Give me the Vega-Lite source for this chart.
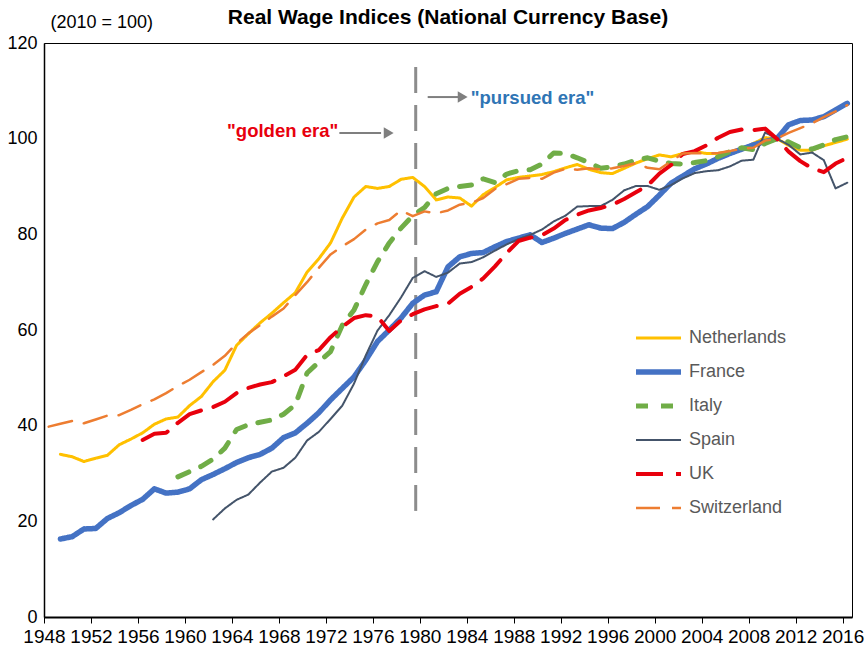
{
  "$schema": "https://vega.github.io/schema/vega-lite/v6.json",
  "width": 808,
  "height": 574,
  "autosize": {"type": "none"},
  "padding": {"left": 44, "top": 43, "right": 16, "bottom": 32},
  "config": {
    "font": "Liberation Sans",
    "view": {"stroke": "#000000", "strokeWidth": 1}
  },
  "title": {
    "text": "Real Wage Indices (National Currency Base)",
    "fontSize": 21,
    "fontWeight": "bold",
    "color": "#000000",
    "frame": "group",
    "anchor": "middle",
    "baseline": "alphabetic",
    "offset": 19,
    "dy": 51
  },
  "resolve": {"scale": {"x": "independent"}},
  "layer": [
    {
      "data": {"values": [{"x": 1979.65, "top": 115, "bottom": 22}]},
      "mark": {"type": "rule", "color": "#8C8C8C", "strokeWidth": 3, "strokeDash": [26, 12]},
      "encoding": {
        "x": {
          "field": "x", "type": "quantitative",
          "scale": {"domain": [1948, 2016.8], "nice": false, "zero": false},
          "axis": {
            "values": [1948, 1952, 1956, 1960, 1964, 1968, 1972, 1976, 1980, 1984, 1988, 1992, 1996, 2000, 2004, 2008, 2012, 2016],
            "format": "d", "title": null, "grid": false,
            "labelFontSize": 19, "labelColor": "#000000", "labelOverlap": false, "labelFlush": false,
            "labelPadding": 4, "tickSize": 6, "tickColor": "#000000", "tickWidth": 1,
            "domainColor": "#000000", "domainWidth": 2
          }
        },
        "y": {
          "field": "top", "type": "quantitative",
          "scale": {"domain": [0, 120], "nice": false},
          "axis": {
            "values": [0, 20, 40, 60, 80, 100, 120],
            "grid": false, "ticks": false,
            "labelFontSize": 18, "labelColor": "#000000", "labelPadding": 7,
            "domainColor": "#000000", "domainWidth": 1.5,
            "title": "(2010 = 100)", "titleAngle": 0, "titleX": 6, "titleY": -21,
            "titleAlign": "left", "titleBaseline": "middle",
            "titleFontSize": 18, "titleFontWeight": "normal", "titleColor": "#000000"
          }
        },
        "y2": {"field": "bottom"}
      }
    },
    {
      "data": {"name": "wages"},
      "mark": {"type": "line", "strokeCap": "round", "strokeJoin": "round"},
      "encoding": {
        "x": {"field": "year", "type": "quantitative", "scale": {"domain": [1947.6, 2016.4], "nice": false, "zero": false}, "axis": null},
        "y": {
          "field": "value", "type": "quantitative", "scale": {"domain": [0, 120], "nice": false},
          "axis": {
            "values": [0, 20, 40, 60, 80, 100, 120],
            "grid": false, "ticks": false,
            "labelFontSize": 18, "labelColor": "#000000", "labelPadding": 7,
            "domainColor": "#000000", "domainWidth": 1.5,
            "title": "(2010 = 100)", "titleAngle": 0, "titleX": 6, "titleY": -21,
            "titleAlign": "left", "titleBaseline": "middle",
            "titleFontSize": 18, "titleFontWeight": "normal", "titleColor": "#000000"
          }
        },
        "color": {
          "field": "country", "type": "nominal",
          "scale": {
            "domain": ["Netherlands", "France", "Italy", "Spain", "UK", "Switzerland"],
            "range": ["#FFC000", "#4472C4", "#70AD47", "#44546A", "#E8000D", "#ED7D31"]
          },
          "legend": {
            "title": null, "orient": "none", "legendX": 589, "legendY": 286,
            "symbolType": "stroke", "symbolSize": 2025, "clipHeight": 18, "rowPadding": 16,
            "labelFontSize": 18, "labelColor": "#595959", "labelOffset": 5, "padding": 0,
            "direction": "vertical"
          }
        },
        "strokeDash": {
          "field": "country", "type": "nominal",
          "scale": {
            "domain": ["Netherlands", "France", "Italy", "Spain", "UK", "Switzerland"],
            "range": [[1, 0], [1, 0], [12, 13], [1, 0], [27, 13], [24, 12]]
          }
        },
        "strokeWidth": {
          "field": "country", "type": "nominal",
          "scale": {
            "type": "ordinal",
            "domain": ["Netherlands", "France", "Italy", "Spain", "UK", "Switzerland"],
            "range": [3, 5.5, 5, 2, 4, 2.5]
          }
        }
      }
    },
    {
      "data": {"values": [{"x1": 1972.75, "x2": 1976.3, "y": 101.2}, {"x1": 1980.27, "x2": 1982.9, "y": 108.7}]},
      "mark": {"type": "rule", "color": "#7F7F7F", "strokeWidth": 2},
      "encoding": {
        "x": {"field": "x1", "type": "quantitative", "scale": {"domain": [1947.6, 2016.4], "nice": false, "zero": false}, "axis": null},
        "x2": {"field": "x2"},
        "y": {
          "field": "y", "type": "quantitative", "scale": {"domain": [0, 120], "nice": false},
          "axis": {
            "values": [0, 20, 40, 60, 80, 100, 120],
            "grid": false, "ticks": false,
            "labelFontSize": 18, "labelColor": "#000000", "labelPadding": 7,
            "domainColor": "#000000", "domainWidth": 1.5,
            "title": "(2010 = 100)", "titleAngle": 0, "titleX": 6, "titleY": -21,
            "titleAlign": "left", "titleBaseline": "middle",
            "titleFontSize": 18, "titleFontWeight": "normal", "titleColor": "#000000"
          }
        }
      }
    },
    {
      "data": {"values": [{"x": 1976.95, "y": 101.2}, {"x": 1983.25, "y": 108.7}]},
      "mark": {"type": "point", "shape": "triangle-right", "filled": true, "color": "#7F7F7F", "size": 130, "opacity": 1},
      "encoding": {
        "x": {"field": "x", "type": "quantitative", "scale": {"domain": [1947.6, 2016.4], "nice": false, "zero": false}, "axis": null},
        "y": {
          "field": "y", "type": "quantitative", "scale": {"domain": [0, 120], "nice": false},
          "axis": {
            "values": [0, 20, 40, 60, 80, 100, 120],
            "grid": false, "ticks": false,
            "labelFontSize": 18, "labelColor": "#000000", "labelPadding": 7,
            "domainColor": "#000000", "domainWidth": 1.5,
            "title": "(2010 = 100)", "titleAngle": 0, "titleX": 6, "titleY": -21,
            "titleAlign": "left", "titleBaseline": "middle",
            "titleFontSize": 18, "titleFontWeight": "normal", "titleColor": "#000000"
          }
        }
      }
    },
    {
      "data": {"values": [{"x": 1967.92, "y": 101.6, "label": "\"golden era\""}]},
      "mark": {"type": "text", "color": "#E8000D", "fontSize": 18.5, "fontWeight": "bold", "align": "center", "baseline": "middle"},
      "encoding": {
        "x": {"field": "x", "type": "quantitative", "scale": {"domain": [1947.6, 2016.4], "nice": false, "zero": false}, "axis": null},
        "y": {
          "field": "y", "type": "quantitative", "scale": {"domain": [0, 120], "nice": false},
          "axis": {
            "values": [0, 20, 40, 60, 80, 100, 120],
            "grid": false, "ticks": false,
            "labelFontSize": 18, "labelColor": "#000000", "labelPadding": 7,
            "domainColor": "#000000", "domainWidth": 1.5,
            "title": "(2010 = 100)", "titleAngle": 0, "titleX": 6, "titleY": -21,
            "titleAlign": "left", "titleBaseline": "middle",
            "titleFontSize": 18, "titleFontWeight": "normal", "titleColor": "#000000"
          }
        },
        "text": {"field": "label"}
      }
    },
    {
      "data": {"values": [{"x": 1983.94, "y": 108.5, "label": "\"pursued era\""}]},
      "mark": {"type": "text", "color": "#2F75B5", "fontSize": 18.5, "fontWeight": "bold", "align": "left", "baseline": "middle"},
      "encoding": {
        "x": {"field": "x", "type": "quantitative", "scale": {"domain": [1947.6, 2016.4], "nice": false, "zero": false}, "axis": null},
        "y": {
          "field": "y", "type": "quantitative", "scale": {"domain": [0, 120], "nice": false},
          "axis": {
            "values": [0, 20, 40, 60, 80, 100, 120],
            "grid": false, "ticks": false,
            "labelFontSize": 18, "labelColor": "#000000", "labelPadding": 7,
            "domainColor": "#000000", "domainWidth": 1.5,
            "title": "(2010 = 100)", "titleAngle": 0, "titleX": 6, "titleY": -21,
            "titleAlign": "left", "titleBaseline": "middle",
            "titleFontSize": 18, "titleFontWeight": "normal", "titleColor": "#000000"
          }
        },
        "text": {"field": "label"}
      }
    }
  ],
  "datasets": {
    "wages": [
      {"country":"Netherlands","year":1949,"value":34.0},{"country":"Netherlands","year":1950,"value":33.5},{"country":"Netherlands","year":1951,"value":32.5},{"country":"Netherlands","year":1952,"value":33.2},{"country":"Netherlands","year":1953,"value":33.8},{"country":"Netherlands","year":1954,"value":36.0},{"country":"Netherlands","year":1955,"value":37.2},{"country":"Netherlands","year":1956,"value":38.5},{"country":"Netherlands","year":1957,"value":40.3},{"country":"Netherlands","year":1958,"value":41.4},{"country":"Netherlands","year":1959,"value":41.8},{"country":"Netherlands","year":1960,"value":44.2},{"country":"Netherlands","year":1961,"value":46.1},{"country":"Netherlands","year":1962,"value":49.2},{"country":"Netherlands","year":1963,"value":51.6},{"country":"Netherlands","year":1964,"value":56.8},{"country":"Netherlands","year":1965,"value":59.2},{"country":"Netherlands","year":1966,"value":61.5},{"country":"Netherlands","year":1967,"value":63.5},{"country":"Netherlands","year":1968,"value":65.7},{"country":"Netherlands","year":1969,"value":67.8},{"country":"Netherlands","year":1970,"value":72.1},{"country":"Netherlands","year":1971,"value":74.9},{"country":"Netherlands","year":1972,"value":78.2},{"country":"Netherlands","year":1973,"value":83.4},{"country":"Netherlands","year":1974,"value":87.8},{"country":"Netherlands","year":1975,"value":90.0},{"country":"Netherlands","year":1976,"value":89.6},{"country":"Netherlands","year":1977,"value":90.0},{"country":"Netherlands","year":1978,"value":91.5},{"country":"Netherlands","year":1979,"value":91.9},{"country":"Netherlands","year":1980,"value":90.0},{"country":"Netherlands","year":1981,"value":87.2},{"country":"Netherlands","year":1982,"value":87.8},{"country":"Netherlands","year":1983,"value":87.6},{"country":"Netherlands","year":1984,"value":85.9},{"country":"Netherlands","year":1985,"value":88.3},{"country":"Netherlands","year":1986,"value":89.8},{"country":"Netherlands","year":1987,"value":91.4},{"country":"Netherlands","year":1988,"value":91.9},{"country":"Netherlands","year":1989,"value":92.2},{"country":"Netherlands","year":1990,"value":92.5},{"country":"Netherlands","year":1991,"value":93.1},{"country":"Netherlands","year":1992,"value":93.9},{"country":"Netherlands","year":1993,"value":94.6},{"country":"Netherlands","year":1994,"value":93.6},{"country":"Netherlands","year":1995,"value":92.9},{"country":"Netherlands","year":1996,"value":92.7},{"country":"Netherlands","year":1997,"value":93.8},{"country":"Netherlands","year":1998,"value":94.9},{"country":"Netherlands","year":1999,"value":95.8},{"country":"Netherlands","year":2000,"value":96.6},{"country":"Netherlands","year":2001,"value":96.2},{"country":"Netherlands","year":2002,"value":96.9},{"country":"Netherlands","year":2003,"value":97.3},{"country":"Netherlands","year":2004,"value":96.9},{"country":"Netherlands","year":2005,"value":96.9},{"country":"Netherlands","year":2006,"value":97.3},{"country":"Netherlands","year":2007,"value":97.6},{"country":"Netherlands","year":2008,"value":99.0},{"country":"Netherlands","year":2009,"value":100.2},{"country":"Netherlands","year":2010,"value":100.0},{"country":"Netherlands","year":2011,"value":98.6},{"country":"Netherlands","year":2012,"value":97.6},{"country":"Netherlands","year":2013,"value":97.6},{"country":"Netherlands","year":2014,"value":98.5},{"country":"Netherlands","year":2015,"value":99.2},{"country":"Netherlands","year":2016,"value":99.9},
      {"country":"France","year":1949,"value":16.3},{"country":"France","year":1950,"value":16.8},{"country":"France","year":1951,"value":18.4},{"country":"France","year":1952,"value":18.5},{"country":"France","year":1953,"value":20.6},{"country":"France","year":1954,"value":21.8},{"country":"France","year":1955,"value":23.3},{"country":"France","year":1956,"value":24.6},{"country":"France","year":1957,"value":26.8},{"country":"France","year":1958,"value":25.9},{"country":"France","year":1959,"value":26.1},{"country":"France","year":1960,"value":26.8},{"country":"France","year":1961,"value":28.7},{"country":"France","year":1962,"value":29.8},{"country":"France","year":1963,"value":31.0},{"country":"France","year":1964,"value":32.3},{"country":"France","year":1965,"value":33.3},{"country":"France","year":1966,"value":34.0},{"country":"France","year":1967,"value":35.3},{"country":"France","year":1968,"value":37.5},{"country":"France","year":1969,"value":38.5},{"country":"France","year":1970,"value":40.5},{"country":"France","year":1971,"value":42.7},{"country":"France","year":1972,"value":45.4},{"country":"France","year":1973,"value":47.8},{"country":"France","year":1974,"value":50.2},{"country":"France","year":1975,"value":53.7},{"country":"France","year":1976,"value":57.6},{"country":"France","year":1977,"value":60.0},{"country":"France","year":1978,"value":62.5},{"country":"France","year":1979,"value":65.6},{"country":"France","year":1980,"value":67.3},{"country":"France","year":1981,"value":68.0},{"country":"France","year":1982,"value":73.2},{"country":"France","year":1983,"value":75.3},{"country":"France","year":1984,"value":76.0},{"country":"France","year":1985,"value":76.2},{"country":"France","year":1986,"value":77.4},{"country":"France","year":1987,"value":78.5},{"country":"France","year":1988,"value":79.2},{"country":"France","year":1989,"value":79.9},{"country":"France","year":1990,"value":78.3},{"country":"France","year":1991,"value":79.2},{"country":"France","year":1992,"value":80.2},{"country":"France","year":1993,"value":81.1},{"country":"France","year":1994,"value":82.0},{"country":"France","year":1995,"value":81.3},{"country":"France","year":1996,"value":81.2},{"country":"France","year":1997,"value":82.5},{"country":"France","year":1998,"value":84.2},{"country":"France","year":1999,"value":85.8},{"country":"France","year":2000,"value":88.2},{"country":"France","year":2001,"value":90.7},{"country":"France","year":2002,"value":92.2},{"country":"France","year":2003,"value":93.7},{"country":"France","year":2004,"value":94.7},{"country":"France","year":2005,"value":95.9},{"country":"France","year":2006,"value":96.9},{"country":"France","year":2007,"value":97.8},{"country":"France","year":2008,"value":98.7},{"country":"France","year":2009,"value":99.4},{"country":"France","year":2010,"value":100.0},{"country":"France","year":2011,"value":102.9},{"country":"France","year":2012,"value":103.8},{"country":"France","year":2013,"value":103.9},{"country":"France","year":2014,"value":104.6},{"country":"France","year":2015,"value":106.0},{"country":"France","year":2016,"value":107.4},
      {"country":"Italy","year":1959,"value":29.3},{"country":"Italy","year":1960,"value":30.4},{"country":"Italy","year":1961,"value":31.5},{"country":"Italy","year":1962,"value":33.0},{"country":"Italy","year":1963,"value":35.3},{"country":"Italy","year":1964,"value":39.2},{"country":"Italy","year":1965,"value":40.2},{"country":"Italy","year":1966,"value":40.7},{"country":"Italy","year":1967,"value":41.2},{"country":"Italy","year":1968,"value":42.4},{"country":"Italy","year":1969,"value":44.4},{"country":"Italy","year":1970,"value":51.0},{"country":"Italy","year":1971,"value":53.3},{"country":"Italy","year":1972,"value":55.5},{"country":"Italy","year":1973,"value":61.0},{"country":"Italy","year":1974,"value":64.2},{"country":"Italy","year":1975,"value":69.5},{"country":"Italy","year":1976,"value":74.3},{"country":"Italy","year":1977,"value":78.2},{"country":"Italy","year":1978,"value":81.3},{"country":"Italy","year":1979,"value":83.9},{"country":"Italy","year":1980,"value":85.6},{"country":"Italy","year":1981,"value":88.5},{"country":"Italy","year":1982,"value":89.6},{"country":"Italy","year":1983,"value":90.0},{"country":"Italy","year":1984,"value":90.3},{"country":"Italy","year":1985,"value":91.6},{"country":"Italy","year":1986,"value":90.8},{"country":"Italy","year":1987,"value":92.6},{"country":"Italy","year":1988,"value":93.3},{"country":"Italy","year":1989,"value":93.5},{"country":"Italy","year":1990,"value":94.7},{"country":"Italy","year":1991,"value":97.0},{"country":"Italy","year":1992,"value":96.9},{"country":"Italy","year":1993,"value":96.0},{"country":"Italy","year":1994,"value":95.0},{"country":"Italy","year":1995,"value":93.8},{"country":"Italy","year":1996,"value":94.1},{"country":"Italy","year":1997,"value":94.7},{"country":"Italy","year":1998,"value":95.5},{"country":"Italy","year":1999,"value":96.0},{"country":"Italy","year":2000,"value":95.3},{"country":"Italy","year":2001,"value":94.8},{"country":"Italy","year":2002,"value":94.7},{"country":"Italy","year":2003,"value":95.0},{"country":"Italy","year":2004,"value":95.4},{"country":"Italy","year":2005,"value":96.2},{"country":"Italy","year":2006,"value":97.3},{"country":"Italy","year":2007,"value":98.1},{"country":"Italy","year":2008,"value":97.7},{"country":"Italy","year":2009,"value":99.0},{"country":"Italy","year":2010,"value":100.0},{"country":"Italy","year":2011,"value":99.3},{"country":"Italy","year":2012,"value":98.1},{"country":"Italy","year":2013,"value":97.8},{"country":"Italy","year":2014,"value":98.7},{"country":"Italy","year":2015,"value":99.8},{"country":"Italy","year":2016,"value":100.4},
      {"country":"Spain","year":1962,"value":20.4},{"country":"Spain","year":1963,"value":22.7},{"country":"Spain","year":1964,"value":24.5},{"country":"Spain","year":1965,"value":25.6},{"country":"Spain","year":1966,"value":28.1},{"country":"Spain","year":1967,"value":30.4},{"country":"Spain","year":1968,"value":31.2},{"country":"Spain","year":1969,"value":33.3},{"country":"Spain","year":1970,"value":36.9},{"country":"Spain","year":1971,"value":38.7},{"country":"Spain","year":1972,"value":41.4},{"country":"Spain","year":1973,"value":44.2},{"country":"Spain","year":1974,"value":48.8},{"country":"Spain","year":1975,"value":54.7},{"country":"Spain","year":1976,"value":59.9},{"country":"Spain","year":1977,"value":63.1},{"country":"Spain","year":1978,"value":66.8},{"country":"Spain","year":1979,"value":70.9},{"country":"Spain","year":1980,"value":72.3},{"country":"Spain","year":1981,"value":71.1},{"country":"Spain","year":1982,"value":72.0},{"country":"Spain","year":1983,"value":73.9},{"country":"Spain","year":1984,"value":74.2},{"country":"Spain","year":1985,"value":75.2},{"country":"Spain","year":1986,"value":76.6},{"country":"Spain","year":1987,"value":77.9},{"country":"Spain","year":1988,"value":79.0},{"country":"Spain","year":1989,"value":79.9},{"country":"Spain","year":1990,"value":81.0},{"country":"Spain","year":1991,"value":82.7},{"country":"Spain","year":1992,"value":83.9},{"country":"Spain","year":1993,"value":85.8},{"country":"Spain","year":1994,"value":85.9},{"country":"Spain","year":1995,"value":85.9},{"country":"Spain","year":1996,"value":87.2},{"country":"Spain","year":1997,"value":89.2},{"country":"Spain","year":1998,"value":90.1},{"country":"Spain","year":1999,"value":90.1},{"country":"Spain","year":2000,"value":89.3},{"country":"Spain","year":2001,"value":90.3},{"country":"Spain","year":2002,"value":91.7},{"country":"Spain","year":2003,"value":92.8},{"country":"Spain","year":2004,"value":93.2},{"country":"Spain","year":2005,"value":93.4},{"country":"Spain","year":2006,"value":94.2},{"country":"Spain","year":2007,"value":95.4},{"country":"Spain","year":2008,"value":95.6},{"country":"Spain","year":2009,"value":101.3},{"country":"Spain","year":2010,"value":100.0},{"country":"Spain","year":2011,"value":98.7},{"country":"Spain","year":2012,"value":96.7},{"country":"Spain","year":2013,"value":97.1},{"country":"Spain","year":2014,"value":95.5},{"country":"Spain","year":2015,"value":89.6},{"country":"Spain","year":2016,"value":90.8},
      {"country":"UK","year":1956,"value":37.0},{"country":"UK","year":1957,"value":38.3},{"country":"UK","year":1958,"value":38.5},{"country":"UK","year":1959,"value":40.6},{"country":"UK","year":1960,"value":42.4},{"country":"UK","year":1961,"value":43.2},{"country":"UK","year":1962,"value":43.9},{"country":"UK","year":1963,"value":45.0},{"country":"UK","year":1964,"value":46.8},{"country":"UK","year":1965,"value":47.9},{"country":"UK","year":1966,"value":48.6},{"country":"UK","year":1967,"value":49.1},{"country":"UK","year":1968,"value":50.3},{"country":"UK","year":1969,"value":51.7},{"country":"UK","year":1970,"value":54.8},{"country":"UK","year":1971,"value":55.8},{"country":"UK","year":1972,"value":58.5},{"country":"UK","year":1973,"value":60.7},{"country":"UK","year":1974,"value":62.5},{"country":"UK","year":1975,"value":63.1},{"country":"UK","year":1976,"value":62.8},{"country":"UK","year":1977,"value":59.8},{"country":"UK","year":1978,"value":62.0},{"country":"UK","year":1979,"value":63.3},{"country":"UK","year":1980,"value":64.3},{"country":"UK","year":1981,"value":65.0},{"country":"UK","year":1982,"value":65.5},{"country":"UK","year":1983,"value":67.6},{"country":"UK","year":1984,"value":69.0},{"country":"UK","year":1985,"value":70.8},{"country":"UK","year":1986,"value":73.3},{"country":"UK","year":1987,"value":76.1},{"country":"UK","year":1988,"value":78.6},{"country":"UK","year":1989,"value":79.3},{"country":"UK","year":1990,"value":79.8},{"country":"UK","year":1991,"value":81.2},{"country":"UK","year":1992,"value":83.0},{"country":"UK","year":1993,"value":84.1},{"country":"UK","year":1994,"value":85.0},{"country":"UK","year":1995,"value":85.5},{"country":"UK","year":1996,"value":86.2},{"country":"UK","year":1997,"value":87.4},{"country":"UK","year":1998,"value":88.8},{"country":"UK","year":1999,"value":90.2},{"country":"UK","year":2000,"value":92.7},{"country":"UK","year":2001,"value":94.5},{"country":"UK","year":2002,"value":96.8},{"country":"UK","year":2003,"value":97.4},{"country":"UK","year":2004,"value":98.6},{"country":"UK","year":2005,"value":100.2},{"country":"UK","year":2006,"value":101.4},{"country":"UK","year":2007,"value":101.9},{"country":"UK","year":2008,"value":101.8},{"country":"UK","year":2009,"value":102.1},{"country":"UK","year":2010,"value":100.0},{"country":"UK","year":2011,"value":97.3},{"country":"UK","year":2012,"value":95.3},{"country":"UK","year":2013,"value":93.8},{"country":"UK","year":2014,"value":93.0},{"country":"UK","year":2015,"value":94.8},{"country":"UK","year":2016,"value":96.0},
      {"country":"Switzerland","year":1948,"value":39.8},{"country":"Switzerland","year":1949,"value":40.4},{"country":"Switzerland","year":1950,"value":41.0},{"country":"Switzerland","year":1951,"value":40.5},{"country":"Switzerland","year":1952,"value":41.3},{"country":"Switzerland","year":1953,"value":42.1},{"country":"Switzerland","year":1954,"value":42.2},{"country":"Switzerland","year":1955,"value":43.3},{"country":"Switzerland","year":1956,"value":44.5},{"country":"Switzerland","year":1957,"value":45.5},{"country":"Switzerland","year":1958,"value":46.8},{"country":"Switzerland","year":1959,"value":48.3},{"country":"Switzerland","year":1960,"value":49.6},{"country":"Switzerland","year":1961,"value":51.2},{"country":"Switzerland","year":1962,"value":52.7},{"country":"Switzerland","year":1963,"value":54.6},{"country":"Switzerland","year":1964,"value":57.2},{"country":"Switzerland","year":1965,"value":59.3},{"country":"Switzerland","year":1966,"value":61.0},{"country":"Switzerland","year":1967,"value":62.8},{"country":"Switzerland","year":1968,"value":64.5},{"country":"Switzerland","year":1969,"value":67.3},{"country":"Switzerland","year":1970,"value":70.0},{"country":"Switzerland","year":1971,"value":73.0},{"country":"Switzerland","year":1972,"value":75.8},{"country":"Switzerland","year":1973,"value":77.5},{"country":"Switzerland","year":1974,"value":79.0},{"country":"Switzerland","year":1975,"value":81.0},{"country":"Switzerland","year":1976,"value":82.3},{"country":"Switzerland","year":1977,"value":83.0},{"country":"Switzerland","year":1978,"value":85.0},{"country":"Switzerland","year":1979,"value":83.8},{"country":"Switzerland","year":1980,"value":84.8},{"country":"Switzerland","year":1981,"value":84.4},{"country":"Switzerland","year":1982,"value":85.0},{"country":"Switzerland","year":1983,"value":86.2},{"country":"Switzerland","year":1984,"value":86.6},{"country":"Switzerland","year":1985,"value":87.6},{"country":"Switzerland","year":1986,"value":89.5},{"country":"Switzerland","year":1987,"value":90.5},{"country":"Switzerland","year":1988,"value":91.6},{"country":"Switzerland","year":1989,"value":91.8},{"country":"Switzerland","year":1990,"value":91.6},{"country":"Switzerland","year":1991,"value":92.9},{"country":"Switzerland","year":1992,"value":93.7},{"country":"Switzerland","year":1993,"value":93.5},{"country":"Switzerland","year":1994,"value":93.8},{"country":"Switzerland","year":1995,"value":93.6},{"country":"Switzerland","year":1996,"value":93.8},{"country":"Switzerland","year":1997,"value":94.3},{"country":"Switzerland","year":1998,"value":94.9},{"country":"Switzerland","year":1999,"value":93.9},{"country":"Switzerland","year":2000,"value":93.6},{"country":"Switzerland","year":2001,"value":95.3},{"country":"Switzerland","year":2002,"value":96.9},{"country":"Switzerland","year":2003,"value":97.0},{"country":"Switzerland","year":2004,"value":96.9},{"country":"Switzerland","year":2005,"value":97.0},{"country":"Switzerland","year":2006,"value":97.4},{"country":"Switzerland","year":2007,"value":97.9},{"country":"Switzerland","year":2008,"value":98.1},{"country":"Switzerland","year":2009,"value":99.6},{"country":"Switzerland","year":2010,"value":100.0},{"country":"Switzerland","year":2011,"value":101.2},{"country":"Switzerland","year":2012,"value":102.2},{"country":"Switzerland","year":2013,"value":103.2},{"country":"Switzerland","year":2014,"value":104.5},{"country":"Switzerland","year":2015,"value":105.7},{"country":"Switzerland","year":2016,"value":107.0}
    ]
  }
}
